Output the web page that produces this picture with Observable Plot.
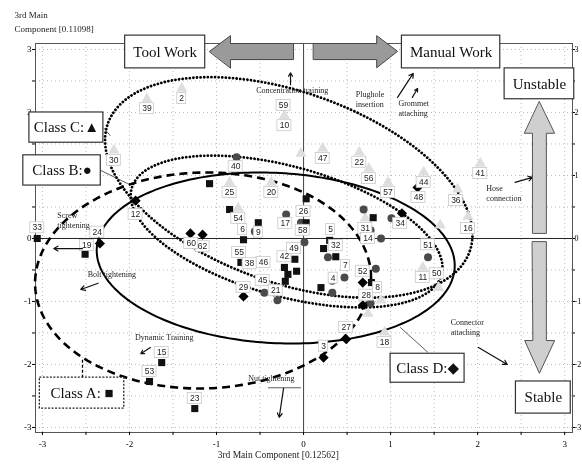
<!DOCTYPE html>
<html><head><meta charset="utf-8">
<script src="https://cdn.jsdelivr.net/npm/d3@7"></script>
<script src="https://cdn.jsdelivr.net/npm/@observablehq/plot@0.6"></script>
<style>body{margin:0;background:#fff} svg{transform:translateZ(0);will-change:transform}</style>
</head><body><div id="chart"></div>
<script>
// ---- data (3rd main component scores) ----
const classA = [[-3.06,0.0],[-2.51,-0.25],[-1.63,-1.97],[-1.77,-2.27],[-1.25,-2.70],[-1.08,0.87],[-0.85,0.46],
  [-0.69,-0.02],[-0.72,-0.38],[-0.52,0.25],[-0.22,-0.46],[-0.18,-0.57],[-0.21,-0.68],[-0.10,-0.33],[-0.08,-0.52],
  [0.03,0.63],[0.03,0.25],[0.23,-0.16],[0.30,-0.03],[0.37,-0.29],[0.20,-0.78],[0.80,0.33],[0.78,-0.70]];
const classB = [[-0.77,1.29],[-0.20,0.38],[-0.56,0.11],[0.01,-0.06],[-0.03,0.25],[-0.45,-0.86],[-0.30,-0.98],
  [0.28,-0.30],[0.47,-0.62],[0.33,-0.67],[0.33,-0.86],[0.69,0.46],[0.77,0.13],[0.89,0.0],[1.01,0.32],
  [0.83,-0.48],[1.43,-0.30],[0.77,-1.03]];
const classC = [[-1.80,2.21],[-1.40,2.38],[-0.22,1.95],[0.22,1.43],[0.64,1.37],[0.75,1.11],[0.97,0.89],
  [1.38,1.05],[2.03,1.19],[1.77,0.78],[1.89,0.35],[-0.85,0.89],[-0.37,0.89],[-0.75,0.48],[1.37,-0.46],
  [1.55,-0.78],[0.93,-1.49],[0.89,-0.98],[0.71,0.32],[-0.03,1.35],[1.57,0.21],[0.74,-1.19],[-2.18,1.40]];
const classD = [[-2.34,-0.08],[-1.93,0.60],[-1.30,0.08],[-1.16,0.06],[-0.69,-0.92],[0.68,-0.70],[0.49,-1.60],
  [0.23,-1.89],[1.13,0.40],[1.31,0.81],[0.68,-1.06]];
const pointLabels = [["39",-1.80,2.06],["2",-1.40,2.22],["59",-0.23,2.11],["10",-0.22,1.79],["30",-2.18,1.24],
  ["40",-0.78,1.14],["47",0.22,1.27],["22",0.64,1.21],["56",0.75,0.95],["57",0.97,0.73],["44",1.38,0.89],
  ["48",1.32,0.65],["41",2.03,1.03],["36",1.75,0.60],["16",1.89,0.16],["25",-0.85,0.73],["20",-0.37,0.73],
  ["54",-0.75,0.32],["26",0.0,0.43],["58",-0.01,0.13],["17",-0.21,0.24],["9",-0.52,0.10],["6",-0.70,0.14],
  ["62",-1.16,-0.13],["60",-1.29,-0.08],["55",-0.74,-0.22],["42",-0.22,-0.29],["49",-0.11,-0.16],
  ["46",-0.46,-0.38],["38",-0.62,-0.40],["45",-0.47,-0.67],["29",-0.69,-0.78],["21",-0.32,-0.83],
  ["5",0.31,0.14],["32",0.37,-0.11],["7",0.48,-0.43],["4",0.34,-0.63],["52",0.68,-0.52],["8",0.85,-0.78],
  ["28",0.72,-0.90],["31",0.71,0.16],["14",0.74,0.0],["34",1.11,0.24],["51",1.43,-0.10],["11",1.37,-0.62],
  ["50",1.53,-0.56],["27",0.49,-1.41],["3",0.23,-1.71],["18",0.93,-1.65],["12",-1.93,0.38],["33",-3.06,0.17],
  ["19",-2.49,-0.11],["24",-2.37,0.10],["15",-1.63,-1.81],["53",-1.77,-2.11],["23",-1.25,-2.54]];
// class ellipses: centre + two conjugate semi-axis vectors (data units)
const ellipses = [
  {name:"C1", cx:-0.17, cy:0.81, ux:2.08, uy:-1.01, vx:-0.36, vy:-1.43, style:"dot"},
  {name:"C2", cx:-0.195, cy:0.11, ux:1.78, uy:-0.687, vx:-0.20, vy:-0.99, style:"dot"},
  {name:"D", cx:-0.32, cy:-0.31, ux:2.056, uy:-0.154, vx:-0.053, vy:-1.349, style:"solid"},
  {name:"A", cx:-1.155, cy:-0.667, ux:1.93, uy:0.04, vx:0, vy:1.714, style:"dash"}
];
const ticks = d3.range(-3, 3.01, 0.5);

// ---- annotations ----
const boxes = [
  {text:"Tool Work", x1:-2.05,x2:-1.13,y1:2.70,y2:3.22},
  {text:"Manual Work", x1:1.13,x2:2.26,y1:2.70,y2:3.22},
  {text:"Unstable", x1:2.31,x2:3.11,y1:2.21,y2:2.70},
  {text:"Stable", x1:2.44,x2:3.07,y1:-2.78,y2:-2.27},
  {text:"Class C:▲", x1:-3.15,x2:-2.30,y1:1.52,y2:2.0},
  {text:"Class B:●", x1:-3.22,x2:-2.33,y1:0.84,y2:1.32},
  {text:"Class D:◆", x1:1.0,x2:1.85,y1:-2.29,y2:-1.83}
];
const boxA = [{text:"Class A: ■", x1:-3.03,x2:-2.06,y1:-2.70,y2:-2.21}];
const arrowLeft = [[-1.08,2.97],[-0.84,3.22],[-0.84,3.095],[-0.115,3.095],[-0.115,2.84],[-0.84,2.84],[-0.84,2.71]];
const arrowRight = [[0.115,3.095],[0.84,3.095],[0.84,3.22],[1.08,2.97],[0.84,2.71],[0.84,2.84],[0.115,2.84]];
const arrowUp = [[2.71,2.17],[2.885,1.67],[2.79,1.67],[2.79,0.08],[2.63,0.08],[2.63,1.67],[2.54,1.67]];
const arrowDown = [[2.63,-0.05],[2.79,-0.05],[2.79,-1.62],[2.885,-1.62],[2.71,-2.14],[2.54,-1.62],[2.63,-1.62]];
const smallArrows = [
  {x1:-0.15,y1:2.44,x2:-0.15,y2:2.63},
  {x1:1.08,y1:2.24,x2:1.26,y2:2.62},
  {x1:1.25,y1:2.24,x2:1.31,y2:2.38},
  {x1:2.43,y1:0.89,x2:2.63,y2:0.97},
  {x1:-2.54,y1:-0.16,x2:-2.87,y2:-0.16},
  {x1:-2.36,y1:-0.71,x2:-2.56,y2:-0.81},
  {x1:-1.76,y1:-1.73,x2:-1.87,y2:-1.83},
  {x1:-0.23,y1:-2.38,x2:-0.28,y2:-2.84},
  {x1:2.01,y1:-1.73,x2:2.34,y2:-2.0}
];
const connectors = [
  {x1:-2.33,y1:1.08,x2:-2.02,y2:0.87},
  {x1:1.43,y1:-1.81,x2:1.11,y2:-1.41},
  {x1:-2.30,y1:1.76,x2:-2.22,y2:1.63},
  {x1:-0.41,y1:-2.37,x2:-0.03,y2:-2.37}
];
const notesLeft = [
  {t:"Plughole\ninsertion", x:0.60, y:2.21},
  {t:"Grommet\nattaching", x:1.09, y:2.08},
  {t:"Hose\nconnection", x:2.10, y:0.73},
  {t:"Screw\ntightening", x:-2.83, y:0.29},
  {t:"Bolt tightening", x:-2.48, y:-0.56},
  {t:"Connector\nattaching", x:1.69, y:-1.41}
];
const notesMid = [
  {t:"Concentration training", x:-0.13, y:2.35},
  {t:"Dynamic Training", x:-1.60, y:-1.57},
  {t:"Nut tightening", x:-0.37, y:-2.22}
];

function ellipsePts(e){
  return d3.range(0, 241).map(i => {
    const t = i/240*2*Math.PI;
    return {name:e.name, x:e.cx + e.ux*Math.cos(t) + e.vx*Math.sin(t), y:e.cy + e.uy*Math.cos(t) + e.vy*Math.sin(t)};
  });
}
const ellipseMarks = ellipses.map(e => Plot.line(ellipsePts(e), {x:"x", y:"y", curve:"linear",
  stroke:"#000",
  strokeWidth: e.style==="solid" ? 2 : (e.style==="dot" ? 2.8 : 2.6),
  strokeDasharray: e.style==="dot" ? "0.01,3.6" : (e.style==="dash" ? "8,5" : null),
  strokeLinecap: e.style==="dot" ? "round" : "butt"}));

const serif = "'Liberation Serif', 'DejaVu Serif', serif";
const fmt = d => Number.isInteger(d) ? String(d) : "";
const pxX = 87, pxY = 63; // approx pixels per unit, used only to size label boxes
const lw = d => (d[0].length*5 + 4)/pxX/2, lh = 5.5/pxY;

const chart = Plot.plot({
  width:582, height:466, marginTop:43, marginRight:10, marginBottom:34, marginLeft:35,
  style:{fontFamily:serif, fontSize:"9px", background:"#fff"},
  x:{domain:[-3.08,3.09], label:null},
  y:{domain:[-3.08,3.095], label:null},
  marks:[
    Plot.gridX(ticks, {stroke:"#bbb", strokeOpacity:1, strokeDasharray:"1,3"}),
    Plot.gridY(ticks, {stroke:"#bbb", strokeOpacity:1, strokeDasharray:"1,3"}),
    Plot.ruleX([0], {stroke:"#444"}),
    Plot.ruleY([0], {stroke:"#222"}),
    Plot.frame({stroke:"#555"}),
    Plot.axisX({ticks, tickFormat:fmt, tickSize:3, tickPadding:5, fontSize:9, label:null}),
    Plot.axisY({anchor:"left", ticks, tickFormat:fmt, tickSize:3, tickPadding:1, fontSize:9, label:null}),
    Plot.axisY({anchor:"right", ticks, tickFormat:fmt, tickSize:2, tickPadding:0, fontSize:8, label:null}),
    ...ellipseMarks,
    Plot.dot(classC, {x:d=>d[0], y:d=>d[1], symbol:"triangle", r:4.2, fill:"#dedede", stroke:"none"}),
    Plot.dot(classB, {x:d=>d[0], y:d=>d[1], symbol:"circle", r:4, fill:"#4a4a4a", stroke:"none"}),
    Plot.dot(classA, {x:d=>d[0], y:d=>d[1], symbol:"square", r:4, fill:"#111", stroke:"none"}),
    Plot.dot(classD, {x:d=>d[0], y:d=>d[1], symbol:"diamond2", r:4.6, fill:"#000", stroke:"none"}),
    Plot.rect(pointLabels, {x1:d=>d[1]-lw(d), x2:d=>d[1]+lw(d), y1:d=>d[2]-lh, y2:d=>d[2]+lh,
      fill:"#fff", stroke:"#c8c8c8", strokeWidth:0.8}),
    Plot.text(pointLabels, {x:d=>d[1], y:d=>d[2], text:d=>d[0], fontFamily:"'Liberation Sans', sans-serif",
      fontSize:8.5, fill:"#222"}),
    // connectors & small arrows
    Plot.link(connectors, {x1:"x1", y1:"y1", x2:"x2", y2:"y2", stroke:"#333", strokeWidth:0.8}),
    Plot.link([{x1:-2.54,y1:-2.21,x2:-2.54,y2:-1.89}], {x1:"x1", y1:"y1", x2:"x2", y2:"y2", stroke:"#000", strokeWidth:1.3, strokeDasharray:"3,2"}),
    Plot.arrow(smallArrows, {x1:"x1", y1:"y1", x2:"x2", y2:"y2", stroke:"#111", strokeWidth:1.2, headLength:6}),
    Plot.text(notesLeft, {x:"x", y:"y", text:"t", textAnchor:"start", fontSize:8, lineHeight:1.25, fill:"#222"}),
    Plot.text(notesMid, {x:"x", y:"y", text:"t", fontSize:8, fill:"#222"}),
    // big block arrows
    Plot.line(arrowLeft, {curve:"linear-closed", fill:"#9a9a9a", stroke:"#444", strokeWidth:1}),
    Plot.line(arrowRight, {curve:"linear-closed", fill:"#9a9a9a", stroke:"#444", strokeWidth:1}),
    Plot.line(arrowUp, {curve:"linear-closed", fill:"#cfcfcf", stroke:"#555", strokeWidth:1}),
    Plot.line(arrowDown, {curve:"linear-closed", fill:"#cfcfcf", stroke:"#555", strokeWidth:1}),
    // text boxes
    Plot.rect(boxes, {x1:"x1", x2:"x2", y1:"y1", y2:"y2", fill:"#fff", stroke:"#333", strokeWidth:1.2}),
    Plot.text(boxes, {x:d=>(d.x1+d.x2)/2, y:d=>(d.y1+d.y2)/2, text:"text", fontSize:15, fill:"#111"}),
    Plot.rect(boxA, {x1:"x1", x2:"x2", y1:"y1", y2:"y2", fill:"#fff", stroke:"#222", strokeWidth:1.3, strokeDasharray:"2,1.5"}),
    Plot.text(boxA, {x:d=>(d.x1+d.x2)/2, y:d=>(d.y1+d.y2)/2, text:"text", fontSize:15, fill:"#111"}),
    // axis titles
    Plot.text(["3rd Main"], {x:-3.32, y:3.54, text:d=>d, textAnchor:"start", fontSize:9, fill:"#222"}),
    Plot.text(["Component [0.11098]"], {x:-3.32, y:3.32, text:d=>d, textAnchor:"start", fontSize:9, fill:"#222"}),
    Plot.text(["3rd Main Component [0.12562]"], {x:-0.29, y:-3.44, text:d=>d, fontSize:9.5, fill:"#222"})
  ]
});
document.getElementById("chart").appendChild(chart);
</script>
</body></html>
